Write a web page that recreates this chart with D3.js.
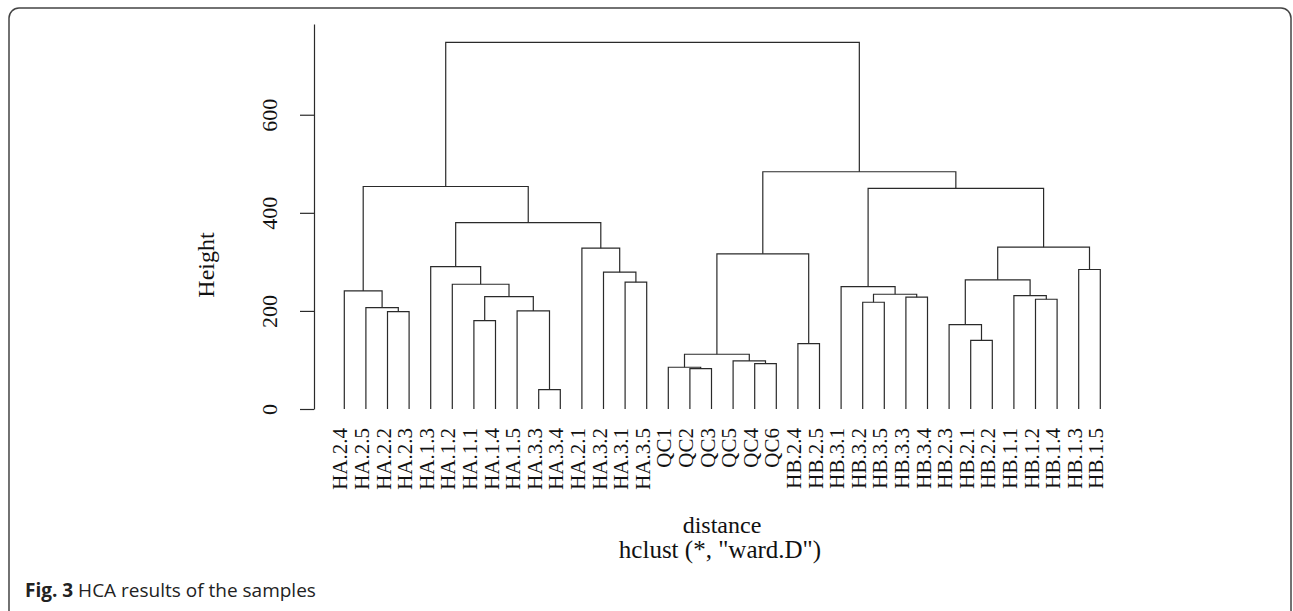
<!DOCTYPE html>
<html>
<head>
<meta charset="utf-8">
<script src="https://cdn.jsdelivr.net/npm/d3@7"></script>
<style>
  body { margin: 0; background: #fff; }
  svg { display: block; }
</style>
</head>
<body>
<svg class="dendro" width="1293" height="611"></svg>
<script>
// leaf order as drawn, left to right
const leafLabels = [
  "HA.2.4", "HA.2.5", "HA.2.2", "HA.2.3", "HA.1.3", "HA.1.2", "HA.1.1", "HA.1.4",
  "HA.1.5", "HA.3.3", "HA.3.4", "HA.2.1", "HA.3.2", "HA.3.1", "HA.3.5",
  "QC1", "QC2", "QC3", "QC5", "QC4", "QC6",
  "HB.2.4", "HB.2.5", "HB.3.1", "HB.3.2", "HB.3.5", "HB.3.3", "HB.3.4", "HB.2.3",
  "HB.2.1", "HB.2.2", "HB.1.1", "HB.1.2", "HB.1.4", "HB.1.3", "HB.1.5"
];

// hclust style merge table: negative = leaf (1-based), positive = earlier merge row
const mergePairs = [
  [-10, -11], [-17, -18], [-16, 2], [-20, -21], [-19, 4], [3, 5], [-22, -23],
  [-30, -31], [-29, 8], [-7, -8], [-3, -4], [-9, 1], [-2, 11], [-25, -26],
  [-33, -34], [-27, -28], [10, 12], [-32, 15], [14, 16], [-1, 13], [-24, 19],
  [-6, 17], [-14, -15], [9, 18], [-13, 23], [-35, -36], [-5, 22], [6, 7],
  [-12, 25], [24, 26], [27, 29], [21, 30], [20, 31], [28, 32], [33, 34]
];
const mergeHeights = [
  39.5, 82.3, 85.1, 92.5, 98, 111.6, 133.3,
  140, 172, 180.2, 198.6, 200, 206.7, 217.7,
  223.8, 228, 229.2, 231.3, 234, 240.8, 249.7,
  254.4, 258.5, 263.3, 278.9, 284.4, 290.4, 316.3,
  327.9, 330, 380.2, 449.7, 453.7, 483.7, 747.5
];
const yTicks = [0, 200, 400, 600];

const svg = d3.select('svg.dendro');
const serif = '"Liberation Serif", "Times New Roman", serif';
const ink = '#2a2a2a';

// frame round the figure
svg.append('rect')
  .attr('x', 9).attr('y', 8)
  .attr('width', 1282).attr('height', 620)
  .attr('rx', 10)
  .style('fill', 'none')
  .style('stroke', '#444')
  .style('stroke-width', 1.5);

const x = d3.scaleLinear().domain([1, leafLabels.length]).range([344.3, 1100.3]);
const y = d3.scaleLinear().domain([0, 785]).range([409, 24]);

// build nested tree from the merge table
function toNode(ref) {
  if (ref < 0) return { name: leafLabels[-ref - 1], leaf: -ref, height: 0 };
  const pair = mergePairs[ref - 1];
  return { height: mergeHeights[ref - 1], children: [toNode(pair[0]), toNode(pair[1])] };
}
const root = d3.hierarchy(toNode(mergePairs.length));
root.eachAfter(d => {
  d.px = d.children ? d3.mean(d.children, c => c.px) : x(d.data.leaf);
  d.py = y(d.data.height);
});

const g = svg.append('g');

g.selectAll('path.link')
  .data(root.descendants().filter(d => d.children))
  .enter()
  .append('path')
  .classed('link', true)
  .attr('d', d => {
    const [a, b] = d.children;
    return `M${a.px},${a.py}V${d.py}H${b.px}V${b.py}`;
  })
  .style('fill', 'none')
  .style('stroke', ink)
  .style('stroke-width', 1.2);

g.selectAll('text.leaf')
  .data(root.leaves())
  .enter()
  .append('text')
  .classed('leaf', true)
  .attr('transform', d => `translate(${d.px + 3},428) rotate(-90)`)
  .attr('text-anchor', 'end')
  .style('font-family', serif)
  .style('font-size', '21px')
  .style('fill', '#111')
  .text(d => d.data.name);

// y axis
const axis = svg.append('g')
  .attr('transform', 'translate(314,0)')
  .call(d3.axisLeft(y).tickValues(yTicks).tickSize(14).tickSizeOuter(0));
axis.select('.domain').style('stroke', ink).style('stroke-width', 1.2);
axis.selectAll('.tick line').style('stroke', ink).style('stroke-width', 1.2);
axis.selectAll('.tick text')
  .attr('x', null).attr('dy', null)
  .attr('transform', 'translate(-37,0) rotate(-90)')
  .attr('text-anchor', 'middle')
  .style('font-family', serif)
  .style('font-size', '22px')
  .style('fill', '#111');

svg.append('text')
  .attr('transform', 'translate(214,265) rotate(-90)')
  .attr('text-anchor', 'middle')
  .style('font-family', serif)
  .style('font-size', '24px')
  .style('fill', '#111')
  .text('Height');

svg.append('text')
  .attr('x', 722).attr('y', 533)
  .attr('text-anchor', 'middle')
  .style('font-family', serif)
  .style('font-size', '24px')
  .style('fill', '#111')
  .text('distance');

svg.append('text')
  .attr('x', 720).attr('y', 558)
  .attr('text-anchor', 'middle')
  .style('font-family', serif)
  .style('font-size', '25px')
  .style('fill', '#111')
  .text('hclust (*, "ward.D")');

const cap = svg.append('text')
  .attr('x', 25).attr('y', 597)
  .style('font-family', '"Open Sans", sans-serif')
  .style('font-size', '19px')
  .style('fill', '#222');
cap.append('tspan').style('font-weight', 'bold').text('Fig. 3');
cap.append('tspan').text(' HCA results of the samples');
</script>
</body>
</html>
